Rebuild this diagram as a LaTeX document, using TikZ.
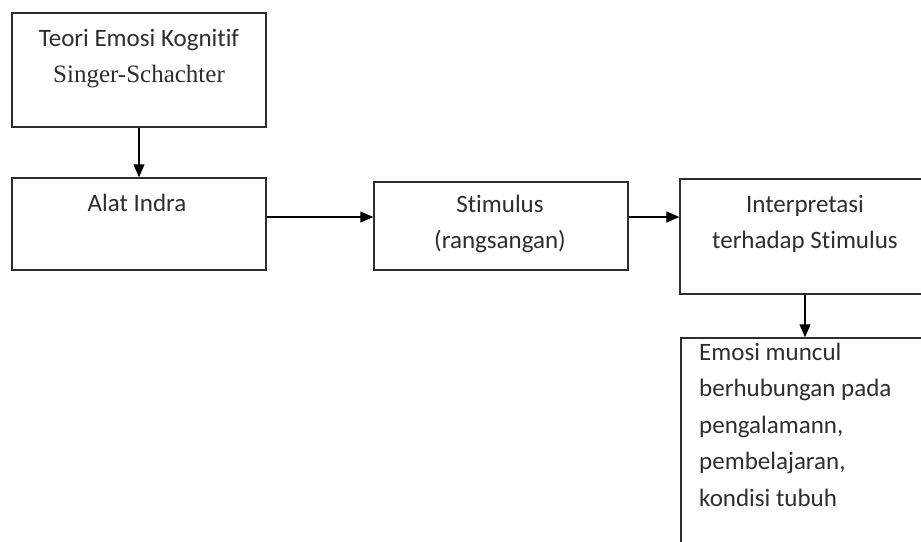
\documentclass[tikz,border=0pt]{standalone}
\usepackage{fontspec}
\setmainfont{Carlito}[Ligatures=NoCommon]
\newfontfamily\timesfont{Liberation Serif}
\usetikzlibrary{arrows.meta}
\definecolor{inkgray}{gray}{0.18}

\begin{document}
\begin{tikzpicture}[x=1pt,y=-1pt,
    box/.style={draw=inkgray,line width=1.4pt,minimum width=254pt,inner sep=0pt},
    txt/.style={inkgray,inner sep=0pt,align=center,font=\fontsize{25}{35.5}\selectfont},
    arr/.style={draw=black,line width=1.3pt,-{Triangle[length=13pt,width=11pt]}}]
       \clip (0,0) rectangle (921,541);
       \fill[white] (0,0) rectangle (921,541);
       % boxes
       \node[box,minimum height=114pt] (teori) at (139,70) {};
       \node[box,minimum height=92pt] (alat) at (139,224) {};
       \node[box,minimum height=88pt] (stim) at (501,226) {};
       \node[box,minimum width=250pt,minimum height=115pt] (interp) at (805,236.5) {};
       \node[box,minimum width=248pt,minimum height=222pt] (emosi) at (805,449) {};
       % texts (base = last line)
       \node[txt,anchor=base] (teoritxt) at (139,82) {Teori Emosi Kognitif\\{\timesfont Singer-Schachter}};
       \node[txt,anchor=base] (alattxt) at (137,211) {Alat Indra};
       \node[txt,anchor=base] (stimtxt) at (500,248) {Stimulus\\(rangsangan)};
       \node[txt,anchor=base] (interptxt) at (805,248) {Interpretasi\\terhadap Stimulus};
       \node[txt,anchor=base west,align=left,font=\fontsize{25}{36.5}\selectfont] (emositxt) at (699,506)
         {Emosi muncul\\berhubungan pada\\pengalamann,\\pembelajaran,\\kondisi tubuh};
       % arrows
       \draw[arr] (teori.south) -- (alat.north);
       \draw[arr] ([yshift=7pt]alat.east) -- ([yshift=9pt]stim.west);
       \draw[arr] ([yshift=9pt]stim.east) -- ([yshift=19.5pt]interp.west);
       \draw[arr] (interp.south) -- (emosi.north);
\end{tikzpicture}
\end{document}
